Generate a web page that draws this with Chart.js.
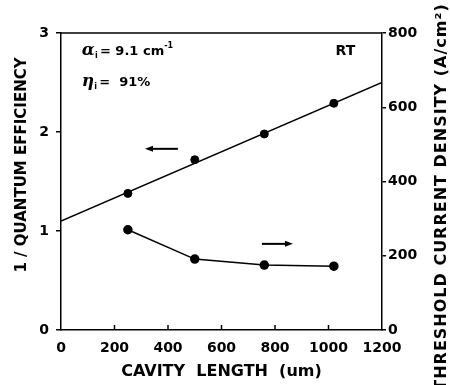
<!DOCTYPE html>
<html>
<head>
<meta charset="utf-8">
<script src="https://cdn.jsdelivr.net/npm/chart.js@4"></script>
<style>
  html, body { margin: 0; padding: 0; background: #fff; }
  #wrap { width: 450px; height: 385px; }
</style>
</head>
<body>
<div id="wrap"><canvas id="chart" width="450" height="385"></canvas></div>
<script>
// Data
const cavityLength = [250, 500, 760, 1020];
const invEfficiency = [1.38, 1.72, 1.98, 2.29];
const thresholdDensity = [270, 191, 175, 172];

// linear fit for 1/efficiency
const fitX = [0, 1200];
const fitY = [1.1, 2.5];

const xTicks = [0, 200, 400, 600, 800, 1000, 1200];
const leftTicks = [0, 1, 2, 3];
const rightTicks = [0, 200, 400, 600, 800];

const FONT = 'DejaVu Sans';

function toPoints(xs, ys) {
    return xs.map((x, i) => ({ x: x, y: ys[i] }));
}

// Extra drawing: box top, inward x ticks, notes, arrows, axis titles
const extras = {
    id: 'extras',
    afterDraw(chart) {
        const ctx = chart.ctx;
        const area = chart.chartArea;
        const sx = chart.scales.x;
        const sy = chart.scales.y;
        ctx.save();
        ctx.strokeStyle = '#000';
        ctx.fillStyle = '#000';
        ctx.lineWidth = 1.5;

        // top side of the box
        ctx.beginPath();
        ctx.moveTo(area.left, area.top);
        ctx.lineTo(area.right, area.top);
        ctx.stroke();

        // inward ticks on the x axis
        xTicks.slice(1, -1).forEach(v => {
            const px = sx.getPixelForValue(v);
            ctx.beginPath();
            ctx.moveTo(px, area.bottom);
            ctx.lineTo(px, area.bottom - 5);
            ctx.stroke();
        });

        // notes
        ctx.textBaseline = 'alphabetic';
        ctx.textAlign = 'left';
        let x = sx.getPixelForValue(78);
        let y = sy.getPixelForValue(2.78);
        ctx.font = 'italic bold 17px "DejaVu Serif"';
        ctx.fillText('\u03b1', x, y);
        x += ctx.measureText('\u03b1').width;
        ctx.font = 'bold 8px ' + FONT;
        ctx.fillText('i', x, y + 3);
        x += 5;
        ctx.font = 'bold 13px ' + FONT;
        ctx.fillText('= 9.1 cm', x, y);
        x += ctx.measureText('= 9.1 cm').width;
        ctx.font = 'bold 8px ' + FONT;
        ctx.fillText('-1', x, y - 7);

        x = sx.getPixelForValue(78);
        y = sy.getPixelForValue(2.46);
        ctx.font = 'italic bold 17px "DejaVu Serif"';
        ctx.fillText('\u03b7', x, y);
        x += ctx.measureText('\u03b7').width;
        ctx.font = 'bold 8px ' + FONT;
        ctx.fillText('i', x, y + 3);
        x += 5;
        ctx.font = 'bold 13px ' + FONT;
        ctx.fillText('=  91%', x, y);

        ctx.textAlign = 'right';
        ctx.font = 'bold 14px ' + FONT;
        ctx.fillText('RT', sx.getPixelForValue(1100), sy.getPixelForValue(2.78));

        // arrows
        function arrow(x1, x2, yv) {
            const a = sx.getPixelForValue(x1);
            const b = sx.getPixelForValue(x2);
            const py = sy.getPixelForValue(yv);
            const dir = b > a ? 1 : -1;
            ctx.lineWidth = 2;
            ctx.beginPath();
            ctx.moveTo(a, py);
            ctx.lineTo(b - dir * 4, py);
            ctx.stroke();
            ctx.beginPath();
            ctx.moveTo(b, py);
            ctx.lineTo(b - dir * 8, py - 3);
            ctx.lineTo(b - dir * 8, py + 3);
            ctx.closePath();
            ctx.fill();
        }
        arrow(437, 314, 1.83);
        arrow(751, 867, 0.87);

        // axis titles, both reading bottom to top
        ctx.textAlign = 'center';
        ctx.textBaseline = 'middle';
        ctx.save();
        ctx.translate(22, 165);
        ctx.rotate(-Math.PI / 2);
        ctx.font = 'bold 15px ' + FONT;
        ctx.fillText('1 / QUANTUM EFFICIENCY', 0, 0);
        ctx.restore();

        ctx.translate(442, 197);
        ctx.rotate(-Math.PI / 2);
        ctx.font = 'bold 16px ' + FONT;
        ctx.letterSpacing = '1px';
        ctx.fillText('THRESHOLD CURRENT DENSITY (A/cm\u00b2)', 0, 0);
        ctx.restore();
    }
};

const plainTick = { color: '#000', font: { family: FONT, size: 14, weight: 'bold' }, callback: v => String(v) };

const ctx = document.getElementById('chart').getContext('2d');
new Chart(ctx, {
    type: 'scatter',
    data: {
        datasets: [
            {
                data: toPoints(fitX, fitY),
                showLine: true,
                borderColor: '#000',
                borderWidth: 1.5,
                pointRadius: 0,
                yAxisID: 'y'
            },
            {
                data: toPoints(cavityLength, invEfficiency),
                showLine: false,
                pointRadius: 4,
                pointBackgroundColor: '#000',
                pointBorderColor: '#000',
                yAxisID: 'y'
            },
            {
                data: toPoints(cavityLength, thresholdDensity),
                showLine: true,
                borderColor: '#000',
                borderWidth: 1.5,
                pointRadius: 4,
                pointBackgroundColor: '#000',
                pointBorderColor: '#000',
                yAxisID: 'y1'
            }
        ]
    },
    options: {
        responsive: false,
        animation: false,
        layout: { padding: { top: 33, left: 0, right: 0, bottom: 0 } },
        plugins: {
            legend: { display: false },
            tooltip: { enabled: false }
        },
        scales: {
            x: {
                type: 'linear',
                position: 'bottom',
                min: 0,
                max: 1200,
                afterBuildTicks: s => { s.ticks = xTicks.map(v => ({ value: v })); },
                ticks: Object.assign({ padding: 10 }, plainTick),
                grid: { display: false, drawTicks: false },
                border: { display: true, color: '#000', width: 1.5 },
                title: {
                    display: true,
                    text: 'CAVITY  LENGTH  (um)',
                    color: '#000',
                    padding: { top: 4, bottom: 4 },
                    font: { family: FONT, size: 16, weight: 'bold' }
                },
                afterFit: s => { s.height = 55; }
            },
            y: {
                type: 'linear',
                position: 'left',
                min: 0,
                max: 3,
                afterBuildTicks: s => { s.ticks = leftTicks.map(v => ({ value: v })); },
                ticks: Object.assign({ padding: 7 }, plainTick),
                grid: { drawOnChartArea: false, drawTicks: true, tickLength: 5, color: '#000', lineWidth: 1.5 },
                border: { display: true, color: '#000', width: 1.5 },
                afterFit: s => { s.width = 61; }
            },
            y1: {
                type: 'linear',
                position: 'right',
                min: 0,
                max: 800,
                afterBuildTicks: s => { s.ticks = rightTicks.map(v => ({ value: v })); },
                ticks: Object.assign({ padding: 2 }, plainTick),
                grid: { drawOnChartArea: false, drawTicks: true, tickLength: 4, color: '#000', lineWidth: 1.5 },
                border: { display: true, color: '#000', width: 1.5 },
                afterFit: s => { s.width = 68; }
            }
        }
    },
    plugins: [extras]
});
</script>
</body>
</html>
